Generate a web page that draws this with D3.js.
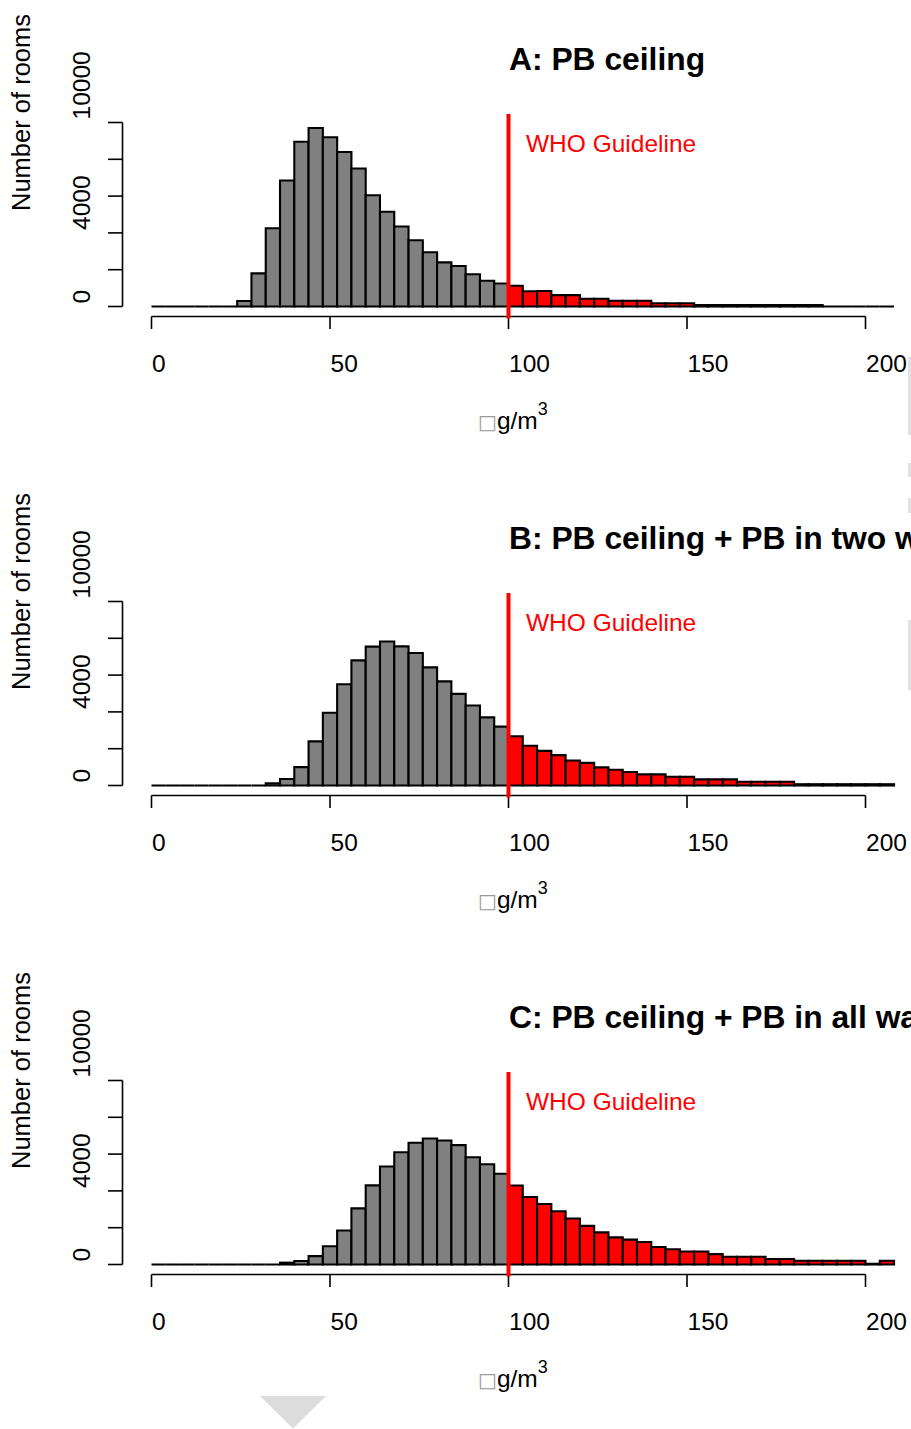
<!DOCTYPE html>
<html><head><meta charset="utf-8">
<script src="https://cdn.jsdelivr.net/npm/d3@7"></script>
<style>
html,body{margin:0;padding:0;background:#fff;overflow:hidden;}
svg{display:block;font-family:"Liberation Sans",Arial,Helvetica,sans-serif;}
</style></head>
<body>
<svg id="chart" width="911" height="1429"></svg>
<script>
// ---- data ----
const binWidth = 4;
const binStart = 0;
const titles = ["A: PB ceiling", "B: PB ceiling + PB in two walls", "C: PB ceiling + PB in all walls"];
const countsA = [0,0,0,0,0,0,300,1800,4250,6850,8950,9700,9200,8400,7500,6050,5150,4350,3600,2950,2400,2200,1750,1400,1250,
  1130,830,840,620,620,420,420,310,310,310,180,180,180,80,80,80,80,80,80,80,80,80,0,0,0,0,0];
const countsB = [0,0,0,0,0,0,0,0,120,350,1000,2400,3950,5500,6800,7550,7830,7560,7200,6420,5660,4980,4350,3700,3200,
  2680,2160,1880,1650,1360,1230,985,855,730,605,605,475,475,335,335,335,205,205,205,205,70,70,70,70,70,70,70];
const countsC = [0,0,0,0,0,0,0,0,0,100,190,455,995,1850,3050,4300,5330,6100,6620,6850,6740,6490,5830,5450,4930,
  4290,3670,3290,2890,2500,2100,1745,1475,1350,1225,955,830,710,710,565,420,420,420,295,295,205,205,205,205,205,40,205];
const seriesCounts = [countsA, countsB, countsC];
const guideline = 100;
const guidelineLabel = "WHO Guideline";
const xTicks = [0, 50, 100, 150, 200];
const yTicks = [0, 2000, 4000, 6000, 8000, 10000];
const yTickLabels = ["0", "", "4000", "", "", "10000"];
const yTitle = "Number of rooms";

// ---- layout ----
const panelOffsets = [0, 479, 958];
const FS = 24.5;
const svg = d3.select("#chart");
const x = d3.scaleLinear().domain([0, 200]).range([151.5, 865.5]);

seriesCounts.forEach((counts, pi) => {
  const g = svg.append("g").attr("transform", `translate(0,${panelOffsets[pi]})`);
  const y = d3.scaleLinear().domain([0, 10000]).range([306.5, 122.5]);
  const bins = counts.map((c, i) => ({x0: binStart + i*binWidth, x1: binStart + (i+1)*binWidth, c}));

  // bars
  g.append("g").selectAll("path").data(bins).join("path")
    .attr("d", d => `M${x(d.x0)},${y(0)}V${y(d.c)}H${x(d.x1)}V${y(0)}Z`)
    .attr("fill", d => d.x0 >= guideline ? "#ff0000" : "#808080")
    .attr("stroke", "#000").attr("stroke-width", 2.1).attr("stroke-linejoin", "miter");

  // x axis
  const xa = g.append("g");
  xa.append("line").attr("x1", x(0)).attr("x2", x(200)).attr("y1", 316.5).attr("y2", 316.5)
    .attr("stroke", "#000").attr("stroke-width", 1.6);
  xa.selectAll("line.t").data(xTicks).join("line").attr("class", "t")
    .attr("x1", d => x(d)).attr("x2", d => x(d)).attr("y1", 316.5).attr("y2", 329)
    .attr("stroke", "#000").attr("stroke-width", 1.6);
  xa.selectAll("text").data(xTicks).join("text")
    .attr("x", d => x(d) + 0.5).attr("y", 372).attr("font-size", FS).attr("fill", "#000")
    .text(d => d);

  // x title
  const xt = g.append("text").attr("x", 478).attr("y", 429).attr("font-size", FS).attr("fill", "#000");
  xt.append("tspan").attr("fill", "#9a9a9a").attr("font-size", 20).attr("font-family", "DejaVu Sans").text("\u25A1");
  xt.append("tspan").text("g/m");
  xt.append("tspan").attr("dy", -14).attr("font-size", 18).text("3");

  // y axis
  const ya = g.append("g");
  ya.append("line").attr("x1", 122.5).attr("x2", 122.5).attr("y1", y(0)).attr("y2", y(10000))
    .attr("stroke", "#000").attr("stroke-width", 1.6);
  ya.selectAll("line.t").data(yTicks).join("line").attr("class", "t")
    .attr("x1", 108).attr("x2", 122.5).attr("y1", d => y(d)).attr("y2", d => y(d))
    .attr("stroke", "#000").attr("stroke-width", 1.6);
  ya.selectAll("text").data(yTicks.map((v, i) => ({v, l: yTickLabels[i]})).filter(d => d.l)).join("text")
    .attr("transform", d => `translate(90,${y(d.v) - 3}) rotate(-90)`)
    .attr("font-size", FS).attr("fill", "#000").text(d => d.l);

  // y title
  g.append("text").attr("transform", "translate(30,112.5) rotate(-90)")
    .attr("text-anchor", "middle").attr("font-size", 25.5).attr("fill", "#000").text(yTitle);

  // guideline
  g.append("line").attr("x1", x(guideline)).attr("x2", x(guideline)).attr("y1", 114).attr("y2", 318.5)
    .attr("stroke", "#ff0000").attr("stroke-width", 4);
  g.append("text").attr("x", 526).attr("y", 152).attr("font-size", FS).attr("fill", "#ff0000").text(guidelineLabel);

  // title
  g.append("text").attr("x", 509).attr("y", 70).attr("font-size", 31.8).attr("font-weight", "bold")
    .attr("fill", "#000").text(titles[pi]);
});

// page artifacts (scrollbar fragments & arrow)
const edgeBits = [[357,435],[463,477],[498,513],[620,690]];
svg.append("g").selectAll("rect").data(edgeBits).join("rect")
  .attr("x", 908).attr("width", 3).attr("y", d => d[0]).attr("height", d => d[1]-d[0]).attr("fill", "#e2e2e2");
svg.append("path").attr("d", "M260,1396L326,1396L293,1428.5Z").attr("fill", "#dcdcdc");
</script>
</body></html>
